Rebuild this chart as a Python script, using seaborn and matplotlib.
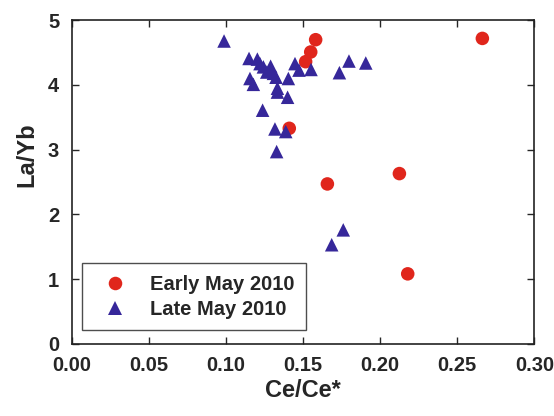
import matplotlib
matplotlib.use("Agg")
import matplotlib.pyplot as plt
import seaborn as sns
import pandas as pd

early_x = [0.1411, 0.1517, 0.1550, 0.1582, 0.1658, 0.2125, 0.2179, 0.2663]
early_y = [3.33, 4.36, 4.51, 4.70, 2.47, 2.63, 1.08, 4.72]

late_x = [0.0988, 0.1150, 0.1204, 0.1221, 0.1243, 0.1290, 0.1265, 0.1308, 0.1325,
          0.1156, 0.1178, 0.1334, 0.1334, 0.1405, 0.1400, 0.1448, 0.1474, 0.1552,
          0.1736, 0.1798, 0.1907, 0.1238, 0.1318, 0.1388, 0.1329, 0.1761, 0.1686]
late_y = [4.68, 4.41, 4.40, 4.33, 4.28, 4.29, 4.20, 4.18, 4.12,
          4.10, 4.01, 3.95, 3.89, 4.10, 3.81, 4.33, 4.23, 4.24,
          4.19, 4.37, 4.34, 3.61, 3.32, 3.28, 2.97, 1.76, 1.53]

series = ["Early May 2010", "Late May 2010"]
colors = ["#E0261C", "#36279A"]
marker_shapes = ["o", "^"]

x_ticks = [0.00, 0.05, 0.10, 0.15, 0.20, 0.25, 0.30]
y_ticks = [0, 1, 2, 3, 4, 5]

df = pd.DataFrame({
    "Ce/Ce*": early_x + late_x,
    "La/Yb": early_y + late_y,
    "Period": [series[0]] * len(early_x) + [series[1]] * len(late_x),
})

sns.set_style("ticks")
plt.rcParams["font.family"] = ["Liberation Sans", "DejaVu Sans"]
plt.rcParams["font.weight"] = "bold"

fig = plt.figure(figsize=(5.54, 4.16), dpi=100)
ax = fig.add_axes([0.1294, 0.1738, 0.9645 - 0.1294, 0.9512 - 0.1738])

sns.scatterplot(data=df, x="Ce/Ce*", y="La/Yb", hue="Period", style="Period",
                palette=dict(zip(series, colors)),
                markers=dict(zip(series, marker_shapes)),
                s=95, linewidth=0, edgecolor="none", ax=ax, legend=True)

ax.set_xlim(0, 0.30)
ax.set_ylim(0, 5)
ax.set_xticks(x_ticks)
ax.set_yticks(y_ticks)
ax.set_xticklabels([f"{t:.2f}" for t in x_ticks], fontsize=14.5, fontweight="bold")
ax.set_yticklabels([str(t) for t in y_ticks], fontsize=14.5, fontweight="bold")
ax.tick_params(direction="in", length=5, width=1, top=True, right=True)
ax.tick_params(axis="x", pad=9)
ax.tick_params(axis="y", pad=9)
for sp in ax.spines.values():
    sp.set_linewidth(1.2)
    sp.set_color("#222222")

ax.set_xlabel("Ce/Ce*", fontsize=17, fontweight="bold", labelpad=3)
ax.set_ylabel("La/Yb", fontsize=17, fontweight="bold")
ax.yaxis.set_label_coords(-0.071, 0.583)

handles, labels = ax.get_legend_handles_labels()
leg = ax.legend(handles, labels, loc="lower left",
                bbox_to_anchor=(0.0216, 0.042), frameon=True, fancybox=False,
                prop={"size": 14.5, "weight": "bold"}, markerscale=1.0,
                borderpad=0.57, handletextpad=0.6, labelspacing=0.3,
                handlelength=2.2, borderaxespad=0)
leg.get_frame().set_edgecolor("#222222")
leg.get_frame().set_linewidth(1.0)

fig.savefig("out.png", dpi=100)
